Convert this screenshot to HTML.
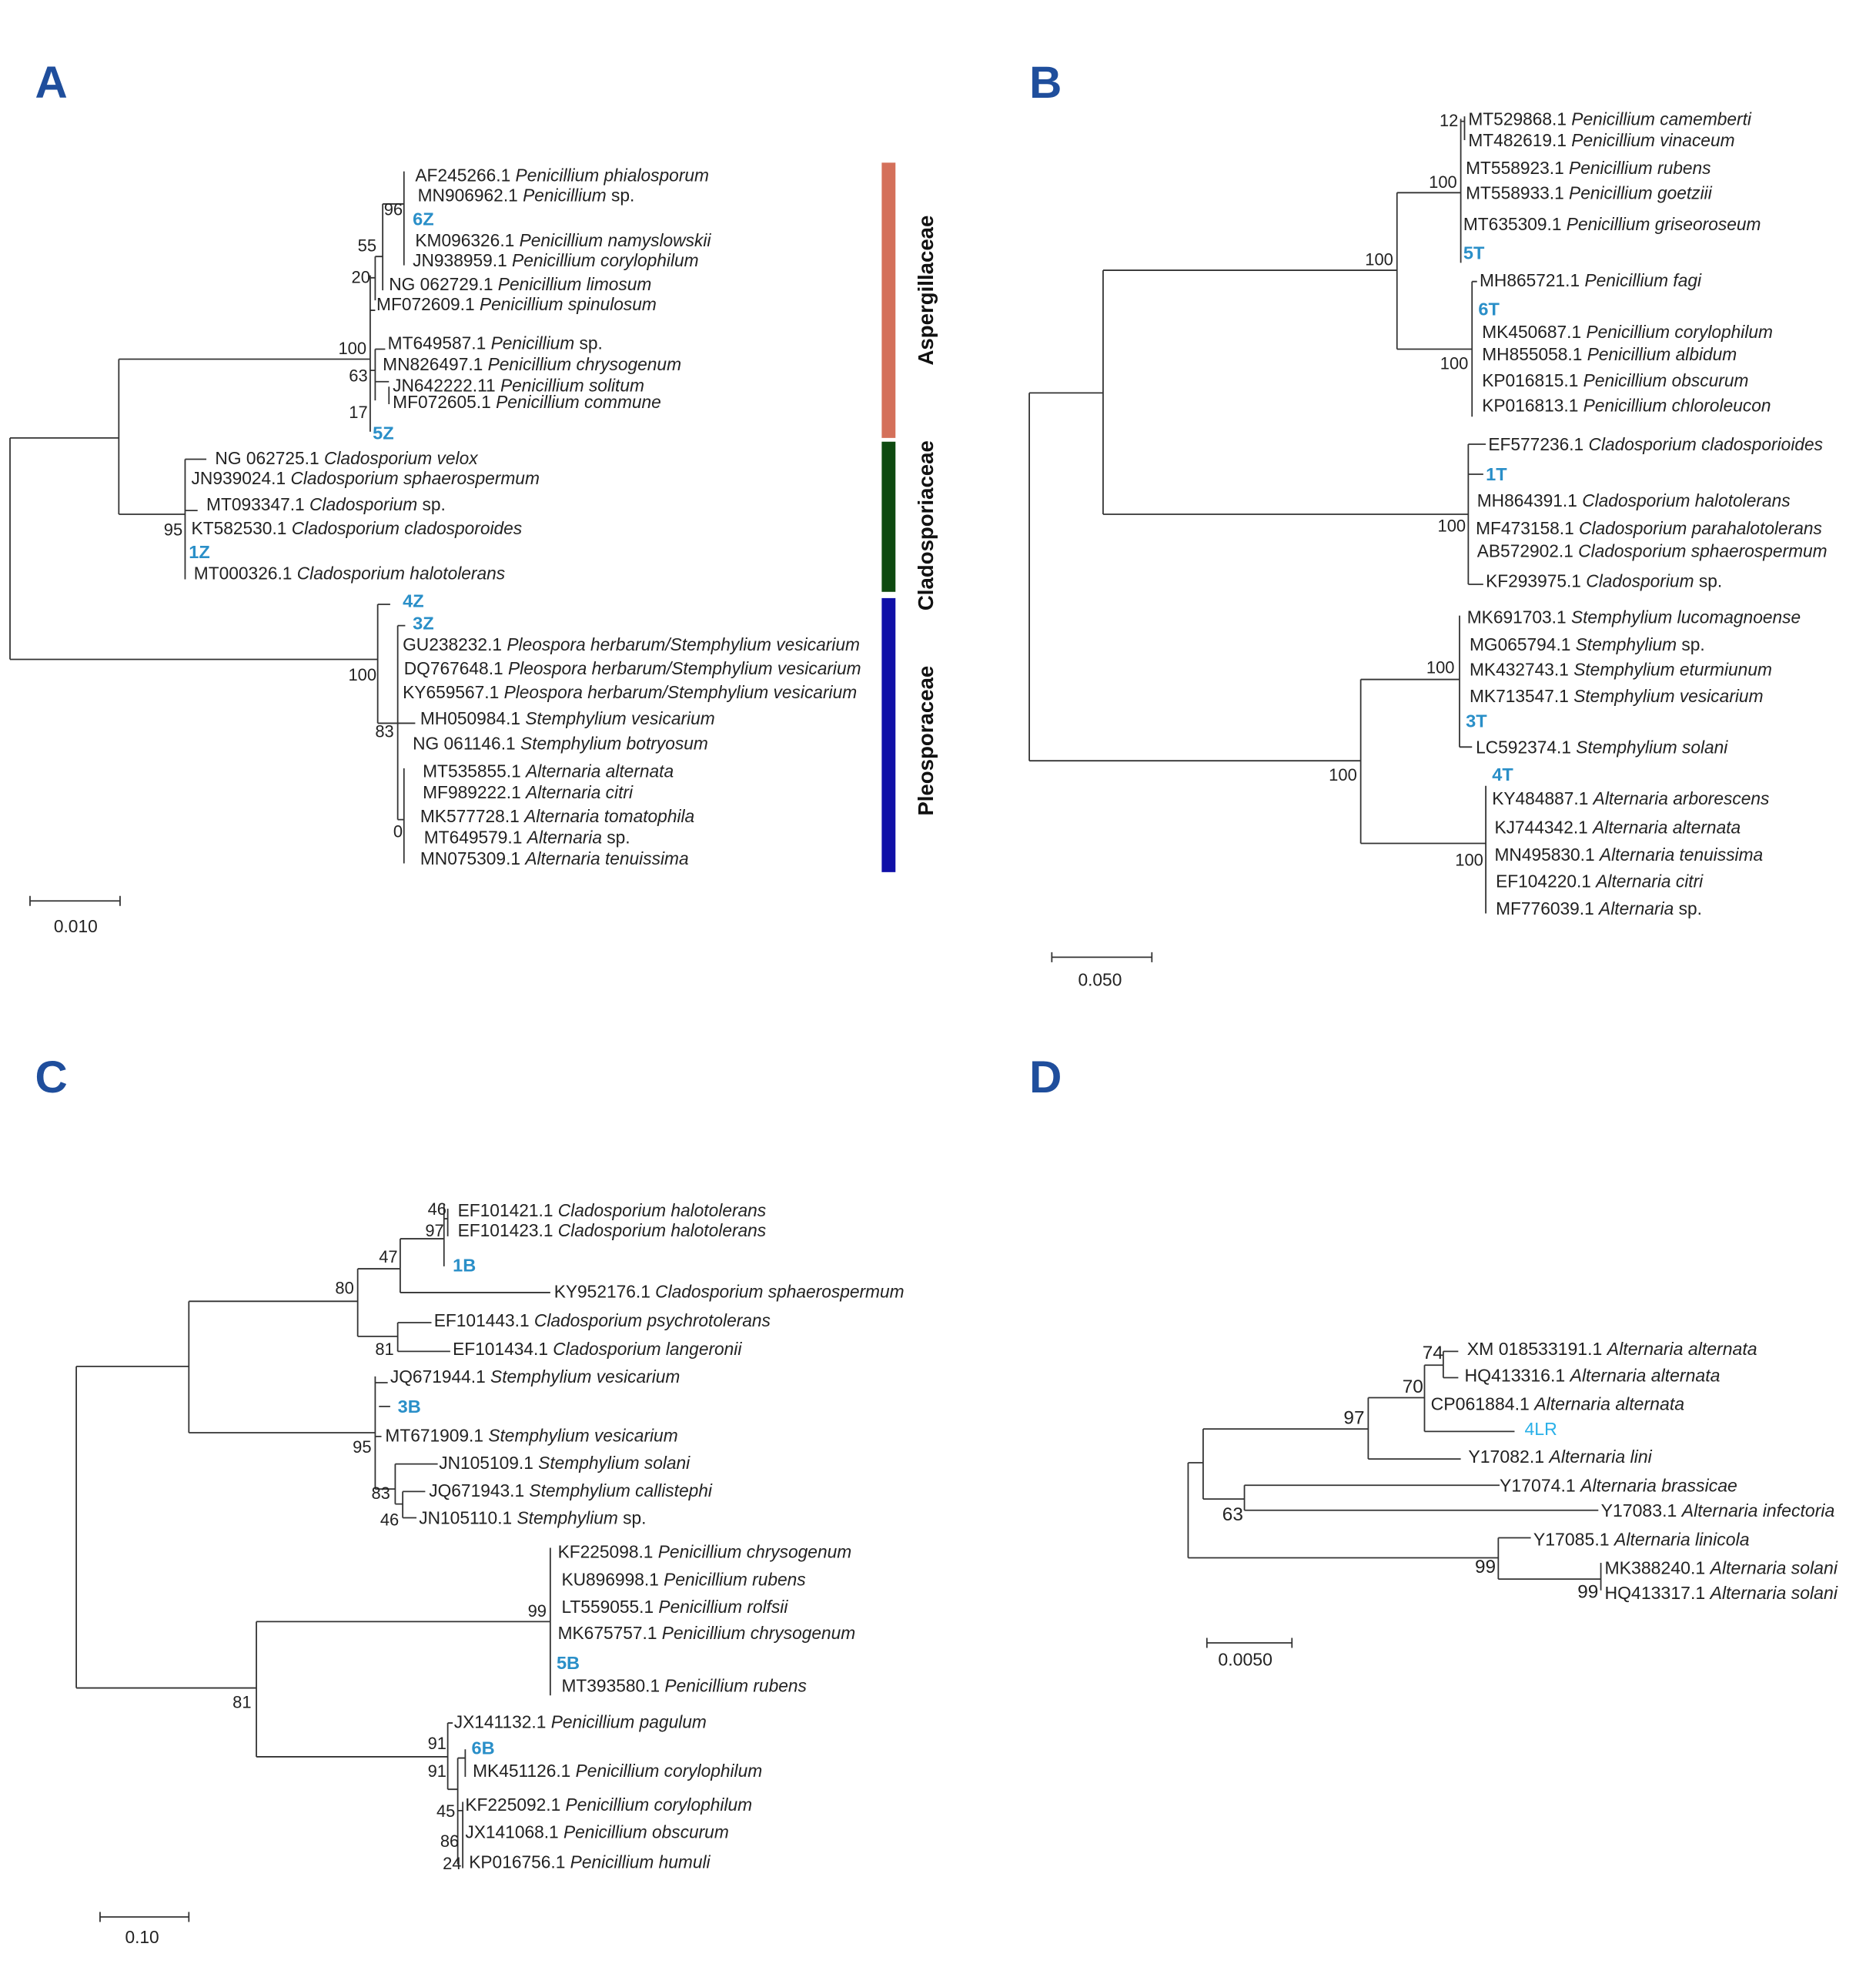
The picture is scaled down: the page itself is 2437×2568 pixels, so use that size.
<!DOCTYPE html>
<html><head><meta charset="utf-8"><style>
html,body{margin:0;padding:0;background:#fff;}
svg{display:block;}
text{font-family:"Liberation Sans",Arial,sans-serif;font-size:14px;fill:#222;}
.i{font-style:italic;}
.b{fill:#2a8fc8;font-weight:bold;font-size:14.5px;}
.L{fill:#1f4e9c;font-weight:bold;font-size:36px;}
.n{font-size:13.5px;text-anchor:end;}
.d text{font-size:14.2px;}
.fam{font-weight:bold;font-size:17px;fill:#111;text-anchor:middle;}
path{stroke:#333;stroke-width:1.1;fill:none;}
</style></head><body>
<svg width="2437" height="2568" viewBox="0 0 1500 1580" preserveAspectRatio="none" xmlns="http://www.w3.org/2000/svg">
<text class="L" x="28" y="78">A</text>
<text class="L" x="823" y="78">B</text>
<text class="L" x="28" y="873">C</text>
<text class="L" x="823" y="873">D</text>

<!-- ===== Panel A ===== -->
<path d="M8 350V527M8 350H95M8 527H302M95 287V411M95 287H296M95 411H148
M296 220V345M296 248H300M296 222H300M300 205V240M300 205H306M306 163V232M306 163H323M323 137V212
M296 296H300M300 279V320M300 279H308M300 305H311M311 309V323
M148 367V463M148 367H165M148 408H158
M302 483V578M302 483H312M318 500V655M302 578H318M318 500H324M318 578H332M318 655H323M323 614V690"/>
<text x="332" y="145">AF245266.1 <tspan class="i">Penicillium phialosporum</tspan></text>
<text x="334" y="161">MN906962.1 <tspan class="i">Penicillium</tspan> sp.</text>
<text class="b" x="330" y="180">6Z</text>
<text x="332" y="197">KM096326.1 <tspan class="i">Penicillium namyslowskii</tspan></text>
<text x="330" y="213">JN938959.1 <tspan class="i">Penicillium corylophilum</tspan></text>
<text x="311" y="232">NG 062729.1 <tspan class="i">Penicillium limosum</tspan></text>
<text x="301" y="248">MF072609.1 <tspan class="i">Penicillium spinulosum</tspan></text>
<text x="310" y="279">MT649587.1 <tspan class="i">Penicillium</tspan> sp.</text>
<text x="306" y="296">MN826497.1 <tspan class="i">Penicillium chrysogenum</tspan></text>
<text x="314" y="313">JN642222.11 <tspan class="i">Penicillium solitum</tspan></text>
<text x="314" y="326">MF072605.1 <tspan class="i">Penicillium commune</tspan></text>
<text class="b" x="298" y="351">5Z</text>
<text x="172" y="371">NG 062725.1 <tspan class="i">Cladosporium velox</tspan></text>
<text x="153" y="387">JN939024.1 <tspan class="i">Cladosporium sphaerospermum</tspan></text>
<text x="165" y="408">MT093347.1 <tspan class="i">Cladosporium</tspan> sp.</text>
<text x="153" y="427">KT582530.1 <tspan class="i">Cladosporium cladosporoides</tspan></text>
<text class="b" x="151" y="446">1Z</text>
<text x="155" y="463">MT000326.1 <tspan class="i">Cladosporium halotolerans</tspan></text>
<text class="b" x="322" y="485">4Z</text>
<text class="b" x="330" y="503">3Z</text>
<text x="322" y="520">GU238232.1 <tspan class="i">Pleospora herbarum/Stemphylium vesicarium</tspan></text>
<text x="323" y="539">DQ767648.1 <tspan class="i">Pleospora herbarum/Stemphylium vesicarium</tspan></text>
<text x="322" y="558">KY659567.1 <tspan class="i">Pleospora herbarum/Stemphylium vesicarium</tspan></text>
<text x="336" y="579">MH050984.1 <tspan class="i">Stemphylium vesicarium</tspan></text>
<text x="330" y="599">NG 061146.1 <tspan class="i">Stemphylium botryosum</tspan></text>
<text x="338" y="621">MT535855.1 <tspan class="i">Alternaria alternata</tspan></text>
<text x="338" y="638">MF989222.1 <tspan class="i">Alternaria citri</tspan></text>
<text x="336" y="657">MK577728.1 <tspan class="i">Alternaria tomatophila</tspan></text>
<text x="339" y="674">MT649579.1 <tspan class="i">Alternaria</tspan> sp.</text>
<text x="336" y="691">MN075309.1 <tspan class="i">Alternaria tenuissima</tspan></text>
<text class="n" x="322" y="172">96</text>
<text class="n" x="301" y="201">55</text>
<text class="n" x="296" y="226">20</text>
<text class="n" x="293" y="283">100</text>
<text class="n" x="294" y="305">63</text>
<text class="n" x="294" y="334">17</text>
<text class="n" x="146" y="428">95</text>
<text class="n" x="301" y="544">100</text>
<text class="n" x="315" y="589">83</text>
<text class="n" x="322" y="669">0</text>
<rect x="705" y="130" width="11" height="220" fill="#d4705a"/>
<rect x="705" y="353" width="11" height="120" fill="#0e4a10"/>
<rect x="705" y="478" width="11" height="219" fill="#1010a8"/>
<text class="fam" transform="translate(746,232) rotate(-90)">Aspergillaceae</text>
<text class="fam" transform="translate(746,420) rotate(-90)">Cladosporiaceae</text>
<text class="fam" transform="translate(746,592) rotate(-90)">Pleosporaceae</text>
<path d="M24 720H96M24 716V724M96 716V724"/>
<text x="43" y="745">0.010</text>

<!-- ===== Panel B ===== -->
<path d="M823 314V608M823 314H882M823 608H1088M882 216V411M882 216H1117M882 411H1174
M1117 154V279M1117 154H1168M1117 279H1177M1168 95V210M1168 97H1171M1171 93V112M1177 225V333M1177 225H1181
M1174 355V467M1174 355H1188M1174 379H1186M1174 467H1186
M1088 543V674M1088 543H1167M1088 674H1188M1167 492V597M1167 597H1177M1188 628V730"/>
<text x="1174" y="100">MT529868.1 <tspan class="i">Penicillium camemberti</tspan></text>
<text x="1174" y="117">MT482619.1 <tspan class="i">Penicillium vinaceum</tspan></text>
<text x="1172" y="139">MT558923.1 <tspan class="i">Penicillium rubens</tspan></text>
<text x="1172" y="159">MT558933.1 <tspan class="i">Penicillium goetziii</tspan></text>
<text x="1170" y="184">MT635309.1 <tspan class="i">Penicillium griseoroseum</tspan></text>
<text class="b" x="1170" y="207">5T</text>
<text x="1183" y="229">MH865721.1 <tspan class="i">Penicillium fagi</tspan></text>
<text class="b" x="1182" y="252">6T</text>
<text x="1185" y="270">MK450687.1 <tspan class="i">Penicillium corylophilum</tspan></text>
<text x="1185" y="288">MH855058.1 <tspan class="i">Penicillium albidum</tspan></text>
<text x="1185" y="309">KP016815.1 <tspan class="i">Penicillium obscurum</tspan></text>
<text x="1185" y="329">KP016813.1 <tspan class="i">Penicillium chloroleucon</tspan></text>
<text x="1190" y="360">EF577236.1 <tspan class="i">Cladosporium cladosporioides</tspan></text>
<text class="b" x="1188" y="384">1T</text>
<text x="1181" y="405">MH864391.1 <tspan class="i">Cladosporium halotolerans</tspan></text>
<text x="1180" y="427">MF473158.1 <tspan class="i">Cladosporium parahalotolerans</tspan></text>
<text x="1181" y="445">AB572902.1 <tspan class="i">Cladosporium sphaerospermum</tspan></text>
<text x="1188" y="469">KF293975.1 <tspan class="i">Cladosporium</tspan> sp.</text>
<text x="1173" y="498">MK691703.1 <tspan class="i">Stemphylium lucomagnoense</tspan></text>
<text x="1175" y="520">MG065794.1 <tspan class="i">Stemphylium</tspan> sp.</text>
<text x="1175" y="540">MK432743.1 <tspan class="i">Stemphylium eturmiunum</tspan></text>
<text x="1175" y="561">MK713547.1 <tspan class="i">Stemphylium vesicarium</tspan></text>
<text class="b" x="1172" y="581">3T</text>
<text x="1180" y="602">LC592374.1 <tspan class="i">Stemphylium solani</tspan></text>
<text class="b" x="1193" y="624">4T</text>
<text x="1193" y="643">KY484887.1 <tspan class="i">Alternaria arborescens</tspan></text>
<text x="1195" y="666">KJ744342.1 <tspan class="i">Alternaria alternata</tspan></text>
<text x="1195" y="688">MN495830.1 <tspan class="i">Alternaria tenuissima</tspan></text>
<text x="1196" y="709">EF104220.1 <tspan class="i">Alternaria citri</tspan></text>
<text x="1196" y="731">MF776039.1 <tspan class="i">Alternaria</tspan> sp.</text>
<text class="n" x="1166" y="101">12</text>
<text class="n" x="1165" y="150">100</text>
<text class="n" x="1114" y="212">100</text>
<text class="n" x="1174" y="295">100</text>
<text class="n" x="1172" y="425">100</text>
<text class="n" x="1163" y="538">100</text>
<text class="n" x="1085" y="624">100</text>
<text class="n" x="1186" y="692">100</text>
<path d="M841 765H921M841 761V769M921 761V769"/>
<text x="862" y="788">0.050</text>

<!-- ===== Panel C ===== -->
<path d="M61 1092V1349M61 1092H151M61 1349H205M151 1040V1145M151 1040H286M151 1145H300
M286 1014V1068M286 1014H320M286 1068H318M320 990V1033M320 990H355M320 1033H440M355 962V1012M355 974H358M358 966V988
M318 1057V1080M318 1057H345M318 1080H360
M300 1100V1190M300 1105H310M303 1124H312M300 1148H305M300 1190H316M316 1170V1202M316 1170H350M316 1202H322M322 1192V1213M322 1192H340M322 1213H333
M205 1296V1404M205 1296H440M205 1404H358M440 1237V1355
M358 1377V1430M358 1377H362M358 1430H366M366 1405V1490M366 1405H372M372 1398V1420M366 1447H370M370 1440V1493"/>
<text x="366" y="972">EF101421.1 <tspan class="i">Cladosporium halotolerans</tspan></text>
<text x="366" y="988">EF101423.1 <tspan class="i">Cladosporium halotolerans</tspan></text>
<text class="b" x="362" y="1016">1B</text>
<text x="443" y="1037">KY952176.1 <tspan class="i">Cladosporium sphaerospermum</tspan></text>
<text x="347" y="1060">EF101443.1 <tspan class="i">Cladosporium psychrotolerans</tspan></text>
<text x="362" y="1083">EF101434.1 <tspan class="i">Cladosporium langeronii</tspan></text>
<text x="312" y="1105">JQ671944.1 <tspan class="i">Stemphylium vesicarium</tspan></text>
<text class="b" x="318" y="1129">3B</text>
<text x="308" y="1152">MT671909.1 <tspan class="i">Stemphylium vesicarium</tspan></text>
<text x="351" y="1174">JN105109.1 <tspan class="i">Stemphylium solani</tspan></text>
<text x="343" y="1196">JQ671943.1 <tspan class="i">Stemphylium callistephi</tspan></text>
<text x="335" y="1218">JN105110.1 <tspan class="i">Stemphylium</tspan> sp.</text>
<text x="446" y="1245">KF225098.1 <tspan class="i">Penicillium chrysogenum</tspan></text>
<text x="449" y="1267">KU896998.1 <tspan class="i">Penicillium rubens</tspan></text>
<text x="449" y="1289">LT559055.1 <tspan class="i">Penicillium rolfsii</tspan></text>
<text x="446" y="1310">MK675757.1 <tspan class="i">Penicillium chrysogenum</tspan></text>
<text class="b" x="445" y="1334">5B</text>
<text x="449" y="1352">MT393580.1 <tspan class="i">Penicillium rubens</tspan></text>
<text x="363" y="1381">JX141132.1 <tspan class="i">Penicillium pagulum</tspan></text>
<text class="b" x="377" y="1402">6B</text>
<text x="378" y="1420">MK451126.1 <tspan class="i">Penicillium corylophilum</tspan></text>
<text x="372" y="1447">KF225092.1 <tspan class="i">Penicillium corylophilum</tspan></text>
<text x="372" y="1469">JX141068.1 <tspan class="i">Penicillium obscurum</tspan></text>
<text x="375" y="1493">KP016756.1 <tspan class="i">Penicillium humuli</tspan></text>
<text class="n" x="357" y="971">46</text>
<text class="n" x="355" y="988">97</text>
<text class="n" x="318" y="1009">47</text>
<text class="n" x="283" y="1034">80</text>
<text class="n" x="315" y="1083">81</text>
<text class="n" x="297" y="1161">95</text>
<text class="n" x="312" y="1198">83</text>
<text class="n" x="319" y="1219">46</text>
<text class="n" x="437" y="1292">99</text>
<text class="n" x="201" y="1365">81</text>
<text class="n" x="357" y="1398">91</text>
<text class="n" x="357" y="1420">91</text>
<text class="n" x="364" y="1452">45</text>
<text class="n" x="367" y="1476">86</text>
<text class="n" x="369" y="1494">24</text>
<path d="M80 1532H151M80 1528V1536M151 1528V1536"/>
<text x="100" y="1553">0.10</text>

<!-- ===== Panel D ===== -->
<g class="d">
<path d="M950 1169V1245M950 1169H962M950 1245H1198M962 1142V1198M962 1142H1094M962 1198H995
M1094 1117V1166M1094 1117H1139M1094 1166H1168M1139 1091V1144M1139 1091H1154M1139 1144H1211M1154 1080V1101M1154 1080H1166M1154 1101H1166
M995 1187V1207M995 1187H1199M995 1207H1278M1198 1229V1262M1198 1229H1224M1198 1262H1280M1280 1249V1271"/>
<text x="1173" y="1083">XM 018533191.1 <tspan class="i">Alternaria alternata</tspan></text>
<text x="1171" y="1104">HQ413316.1 <tspan class="i">Alternaria alternata</tspan></text>
<text x="1144" y="1127">CP061884.1 <tspan class="i">Alternaria alternata</tspan></text>
<text x="1219" y="1147" style="fill:#2ab0e8">4LR</text>
<text x="1174" y="1169">Y17082.1 <tspan class="i">Alternaria lini</tspan></text>
<text x="1199" y="1192">Y17074.1 <tspan class="i">Alternaria brassicae</tspan></text>
<text x="1280" y="1212">Y17083.1 <tspan class="i">Alternaria infectoria</tspan></text>
<text x="1226" y="1235">Y17085.1 <tspan class="i">Alternaria linicola</tspan></text>
<text x="1283" y="1258">MK388240.1 <tspan class="i">Alternaria solani</tspan></text>
<text x="1283" y="1278">HQ413317.1 <tspan class="i">Alternaria solani</tspan></text>
<text class="n" x="1154" y="1086" style="font-size:15px">74</text>
<text class="n" x="1138" y="1113" style="font-size:15px">70</text>
<text class="n" x="1091" y="1138" style="font-size:15px">97</text>
<text class="n" x="994" y="1215" style="font-size:15px">63</text>
<text class="n" x="1196" y="1257" style="font-size:15px">99</text>
<text class="n" x="1278" y="1277" style="font-size:15px">99</text>
<path d="M965 1313H1033M965 1309V1317M1033 1309V1317"/>
<text x="974" y="1331">0.0050</text>
</g>
</svg>
</body></html>
